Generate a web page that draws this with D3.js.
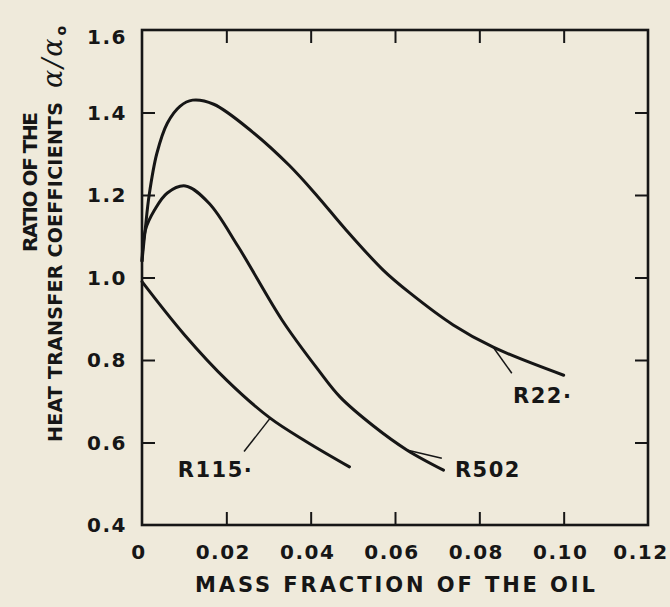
<!DOCTYPE html>
<html>
<head>
<meta charset="utf-8">
<script src="https://cdn.jsdelivr.net/npm/d3@7"></script>
<style>
  html, body { margin: 0; padding: 0; background: #efeadb; }
  svg { display: block; }
  text { font-family: "DejaVu Sans", sans-serif; font-weight: bold; fill: #161616; }
</style>
</head>
<body>
<svg id="chart" width="670" height="607"></svg>
<script>
// ---- data ----
const xTicks = [0, 0.02, 0.04, 0.06, 0.08, 0.10, 0.12];
const xTickLabels = ["0", "0.02", "0.04", "0.06", "0.08", "0.10", "0.12"];
const yTicks = [0.4, 0.6, 0.8, 1.0, 1.2, 1.4, 1.6];
const yTickLabels = ["0.4", "0.6", "0.8", "1.0", "1.2", "1.4", "1.6"];

const seriesNames = ["R22", "R502", "R115"];
const r22X = [0, 0.0008, 0.0017, 0.0035, 0.006, 0.009, 0.012, 0.017, 0.0263, 0.0349, 0.0417, 0.048, 0.0572, 0.0636, 0.0738, 0.0833, 0.100];
const r22Y = [1.04, 1.12, 1.20, 1.30, 1.374, 1.415, 1.43, 1.42, 1.352, 1.272, 1.196, 1.12, 1.018, 0.962, 0.885, 0.831, 0.763];
const r502X = [0, 0.0008, 0.003, 0.006, 0.0103, 0.0159, 0.0228, 0.0332, 0.0418, 0.047, 0.0549, 0.0628, 0.0715];
const r502Y = [1.04, 1.115, 1.164, 1.205, 1.222, 1.18, 1.075, 0.897, 0.776, 0.71, 0.64, 0.582, 0.533];
const r115X = [0, 0.010, 0.0202, 0.0304, 0.039, 0.0492];
const r115Y = [0.99, 0.862, 0.750, 0.659, 0.602, 0.541];

// curve labels: text, label anchor (data), leader from / to (data)
const labelText = ["R22\u00B7", "R502", "R115\u00B7"];
const labelX = [0.0880, 0.0742, 0.0085];
const labelY = [0.696, 0.516, 0.516];
const leaderFrom = [[0.0833, 0.831], [0.0628, 0.582], [0.0304, 0.659]];
const leaderTo = [[0.0877, 0.768], [0.0711, 0.562], [0.0242, 0.578]];

const xTitle = "MASS FRACTION OF THE OIL";
const yTitle1 = "RATIO OF THE";
const yTitle2 = "HEAT TRANSFER COEFFICIENTS";
const yTitleSymbol = "\u03B1/\u03B1";
const yTitleSub = "o";

// ---- layout ----
const L = 142, R = 648, T = 30, B = 525;
const svg = d3.select("#chart");
const x = d3.scaleLinear().domain([0, 0.12]).range([L, R]);
const y = d3.scaleLinear().domain([0.4, 1.6]).range([B, T]);
const ink = "#161616";

// inward ticks on all four sides
const xInner = xTicks.slice(1, -1), yInner = yTicks.slice(1, -1);
svg.append("g").attr("transform", `translate(0,${B})`)
  .call(d3.axisTop(x).tickValues(xInner).tickSize(13).tickFormat(""))
  .call(g => g.select(".domain").remove());
svg.append("g").attr("transform", `translate(0,${T})`)
  .call(d3.axisBottom(x).tickValues(xInner).tickSize(13).tickFormat(""))
  .call(g => g.select(".domain").remove());
svg.append("g").attr("transform", `translate(${L},0)`)
  .call(d3.axisRight(y).tickValues(yInner).tickSize(13).tickFormat(""))
  .call(g => g.select(".domain").remove());
svg.append("g").attr("transform", `translate(${R},0)`)
  .call(d3.axisLeft(y).tickValues(yInner).tickSize(13).tickFormat(""))
  .call(g => g.select(".domain").remove());
svg.selectAll(".tick line").attr("stroke", ink).attr("stroke-width", 2);

// frame
svg.append("rect").attr("x", L).attr("y", T).attr("width", R - L).attr("height", B - T)
  .attr("fill", "none").attr("stroke", ink).attr("stroke-width", 2.6);

// tick labels
svg.append("g").selectAll("text").data(xTicks).join("text")
  .attr("x", (d, i) => x(d) - (i === xTicks.length - 1 ? 7 : 3)).attr("y", 559)
  .attr("text-anchor", "middle").attr("font-size", 20).attr("letter-spacing", 1.5)
  .text((d, i) => xTickLabels[i]);
svg.append("g").selectAll("text").data(yTicks).join("text")
  .attr("x", 127).attr("y", d => y(d) + (d === 1.6 ? 7 : 0)).attr("dy", "0.36em")
  .attr("text-anchor", "end").attr("font-size", 20).attr("letter-spacing", 1.5)
  .text((d, i) => yTickLabels[i]);

// curves
const line = d3.line().x(d => x(d[0])).y(d => y(d[1])).curve(d3.curveCatmullRom.alpha(0.5));
const series = [d3.zip(r22X, r22Y), d3.zip(r502X, r502Y), d3.zip(r115X, r115Y)];
svg.append("g").selectAll("path").data(series).join("path")
  .attr("d", line).attr("fill", "none").attr("stroke", ink)
  .attr("stroke-width", 3).attr("stroke-linecap", "round");

// leaders
svg.append("g").selectAll("line").data(seriesNames).join("line")
  .attr("x1", (d, i) => x(leaderFrom[i][0])).attr("y1", (d, i) => y(leaderFrom[i][1]))
  .attr("x2", (d, i) => x(leaderTo[i][0])).attr("y2", (d, i) => y(leaderTo[i][1]))
  .attr("stroke", ink).attr("stroke-width", 1.5);

// curve labels
svg.append("g").selectAll("text").data(seriesNames).join("text")
  .attr("x", (d, i) => x(labelX[i])).attr("y", (d, i) => y(labelY[i]))
  .attr("font-size", 21).attr("letter-spacing", 1.5)
  .text((d, i) => labelText[i]);

// axis titles
svg.append("text").attr("x", (L + R) / 2).attr("y", 592)
  .attr("text-anchor", "middle").attr("font-size", 21)
  .attr("textLength", 400).attr("lengthAdjust", "spacing")
  .text(xTitle);

svg.append("text").attr("transform", "translate(37,182) rotate(-90)")
  .attr("text-anchor", "middle").attr("font-size", 20)
  .attr("textLength", 140).attr("lengthAdjust", "spacing")
  .text(yTitle1);

svg.append("text").attr("transform", "translate(62,442) rotate(-90)")
  .attr("text-anchor", "start").attr("font-size", 19)
  .attr("textLength", 340).attr("lengthAdjust", "spacing")
  .text(yTitle2);

const sym = svg.append("text").attr("transform", "translate(62,88) rotate(-90)")
  .attr("text-anchor", "start");
sym.append("tspan").attr("font-family", "DejaVu Serif").attr("font-style", "italic")
  .attr("font-weight", "normal").attr("font-size", 27).attr("letter-spacing", 2)
  .text(yTitleSymbol);
sym.append("tspan").attr("font-size", 14).attr("dy", 4).attr("dx", 1).text(yTitleSub);
</script>
</body>
</html>
